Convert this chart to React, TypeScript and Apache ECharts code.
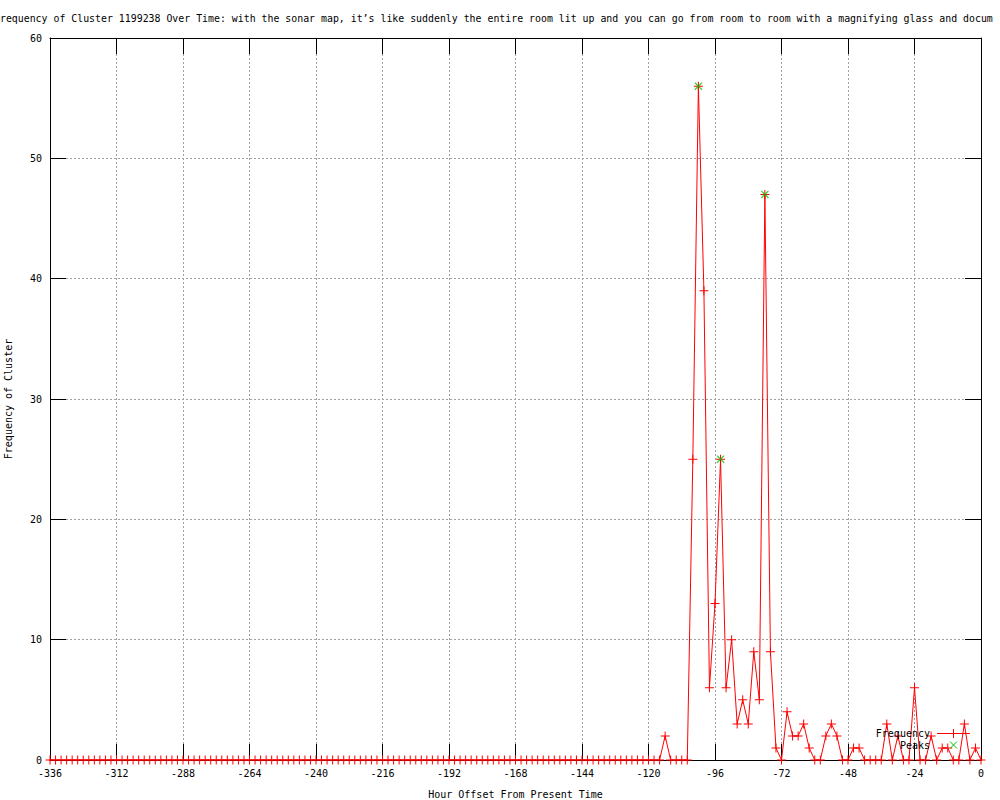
import React, { useEffect, useRef } from "react";
import * as echarts from "echarts";

const TITLE =
  "Frequency of Cluster 1199238 Over Time: with the sonar map, it\u2019s like suddenly the entire room lit up and you can go from room to room with a magnifying glass and docum";
const X_NAME = "Hour Offset From Present Time";
const Y_NAME = "Frequency of Cluster";
const SERIES_FREQ = "Frequency";
const SERIES_PEAKS = "Peaks";

const hours = [
  -336, -334, -332, -330, -328, -326, -324, -322, -320, -318, -316, -314,
  -312, -310, -308, -306, -304, -302, -300, -298, -296, -294, -292, -290,
  -288, -286, -284, -282, -280, -278, -276, -274, -272, -270, -268, -266,
  -264, -262, -260, -258, -256, -254, -252, -250, -248, -246, -244, -242,
  -240, -238, -236, -234, -232, -230, -228, -226, -224, -222, -220, -218,
  -216, -214, -212, -210, -208, -206, -204, -202, -200, -198, -196, -194,
  -192, -190, -188, -186, -184, -182, -180, -178, -176, -174, -172, -170,
  -168, -166, -164, -162, -160, -158, -156, -154, -152, -150, -148, -146,
  -144, -142, -140, -138, -136, -134, -132, -130, -128, -126, -124, -122,
  -120, -118, -116, -114, -112, -110, -108, -106, -104, -102, -100, -98,
  -96, -94, -92, -90, -88, -86, -84, -82, -80, -78, -76, -74,
  -72, -70, -68, -66, -64, -62, -60, -58, -56, -54, -52, -50,
  -48, -46, -44, -42, -40, -38, -36, -34, -32, -30, -28, -26,
  -24, -22, -20, -18, -16, -14, -12, -10, -8, -6, -4, -2,
  0,
];

const frequency = [
  0, 0, 0, 0, 0, 0, 0, 0, 0, 0, 0, 0,
  0, 0, 0, 0, 0, 0, 0, 0, 0, 0, 0, 0,
  0, 0, 0, 0, 0, 0, 0, 0, 0, 0, 0, 0,
  0, 0, 0, 0, 0, 0, 0, 0, 0, 0, 0, 0,
  0, 0, 0, 0, 0, 0, 0, 0, 0, 0, 0, 0,
  0, 0, 0, 0, 0, 0, 0, 0, 0, 0, 0, 0,
  0, 0, 0, 0, 0, 0, 0, 0, 0, 0, 0, 0,
  0, 0, 0, 0, 0, 0, 0, 0, 0, 0, 0, 0,
  0, 0, 0, 0, 0, 0, 0, 0, 0, 0, 0, 0,
  0, 0, 0, 2, 0, 0, 0, 0, 25, 56, 39, 6,
  13, 25, 6, 10, 3, 5, 3, 9, 5, 47, 9, 1,
  0, 4, 2, 2, 3, 1, 0, 0, 2, 3, 2, 0,
  0, 1, 1, 0, 0, 0, 0, 3, 0, 2, 0, 0,
  6, 0, 0, 2, 0, 1, 1, 0, 0, 3, 0, 1,
  0,
];

const peakHours = [-102, -94, -78];
const peakValues = [56, 25, 47];

const X_MIN = -336;
const X_MAX = 0;
const X_STEP = 24;
const Y_MIN = 0;
const Y_MAX = 60;
const Y_STEP = 10;

const FONT = '"DejaVu Sans Mono", "Liberation Mono", monospace';
const PLUS = "path://M4,0H5V4H9V5H5V9H4V5H0V4H4Z";
const CROSS =
  "path://M0,1L1,0L4.5,3.5L8,0L9,1L5.5,4.5L9,8L8,9L4.5,5.5L1,9L0,8L3.5,4.5Z";

const TICK_LEN = 16;
const labelStyle = { color: "#000", fontFamily: FONT, fontSize: 10 };
const gridLine = { color: "#a0a0a0", width: 1, type: [2, 2] };

function baseAxis(min: number, max: number, step: number, position: string) {
  return {
    type: "value",
    min,
    max,
    interval: step,
    position,
    axisLine: { show: false, onZero: false },
    axisTick: { show: false },
    axisLabel: { show: false },
    splitLine: { show: false },
  };
}

function gridAxis(min: number, max: number, step: number, position: string) {
  return {
    ...baseAxis(min, max, step, position),
    z: 0,
    zlevel: 0,
    splitLine: { show: true, lineStyle: gridLine },
  };
}

function frameAxis(
  min: number,
  max: number,
  step: number,
  position: string,
  withLabels: boolean,
  extra: any
) {
  return {
    ...baseAxis(min, max, step, position),
    z: 10,
    zlevel: 1,
    axisLine: { show: true, onZero: false, lineStyle: { color: "#000", width: 1 } },
    axisTick: {
      show: true,
      inside: true,
      length: TICK_LEN,
      lineStyle: { color: "#000", width: 1 },
    },
    axisLabel: withLabels
      ? { show: true, ...labelStyle, margin: 8 }
      : { show: false },
    ...extra,
  };
}

export default function App() {
  const ref = useRef<HTMLDivElement>(null);

  useEffect(() => {
    if (!ref.current) return;
    const chart = echarts.init(ref.current, null, { renderer: "svg" });

    const option: any = {
      animation: false,
      backgroundColor: "#fff",
      grid: {
        left: 50,
        right: 19,
        top: 38,
        bottom: 40,
        containLabel: false,
        outerBoundsMode: "none",
        show: false,
      },
      xAxis: [
        gridAxis(X_MIN, X_MAX, X_STEP, "bottom"),
        frameAxis(X_MIN, X_MAX, X_STEP, "bottom", true, {
          name: X_NAME,
          nameLocation: "middle",
          nameGap: 29,
          nameTextStyle: { color: "#000", fontFamily: FONT, fontSize: 10 },
        }),
        frameAxis(X_MIN, X_MAX, X_STEP, "top", false, {}),
      ],
      yAxis: [
        gridAxis(Y_MIN, Y_MAX, Y_STEP, "left"),
        frameAxis(Y_MIN, Y_MAX, Y_STEP, "left", true, {
          name: Y_NAME,
          nameLocation: "middle",
          nameGap: 37,
          nameRotate: 90,
          nameTextStyle: { color: "#000", fontFamily: FONT, fontSize: 10 },
        }),
        frameAxis(Y_MIN, Y_MAX, Y_STEP, "right", false, {}),
      ],
      series: [
        {
          name: SERIES_FREQ,
          type: "line",
          xAxisIndex: 0,
          yAxisIndex: 0,
          data: hours.map((h, i) => [h, frequency[i]]),
          showAllSymbol: true,
          symbol: PLUS,
          symbolSize: 9,
          lineStyle: { color: "#ff0000", width: 1 },
          itemStyle: { color: "#ff0000" },
          zlevel: 2,
          z: 6,
        },
        {
          name: SERIES_PEAKS,
          type: "scatter",
          xAxisIndex: 0,
          yAxisIndex: 0,
          data: peakHours.map((h, i) => [h, peakValues[i]]),
          symbol: CROSS,
          symbolSize: 8,
          itemStyle: { color: "#00c000" },
          zlevel: 2,
          z: 7,
        },
      ],
      graphic: [
        {
          type: "text",
          x: -6,
          y: 18,
          z: 100,
          zlevel: 3,
          style: {
            text: TITLE,
            fill: "#000",
            font: `9.9px ${FONT}`,
            textAlign: "left",
            textVerticalAlign: "middle",
          },
        },
        {
          type: "text",
          x: 930,
          y: 733,
          z: 100,
          zlevel: 3,
          style: {
            text: SERIES_FREQ,
            fill: "#000",
            font: `10px ${FONT}`,
            textAlign: "right",
            textVerticalAlign: "middle",
          },
        },
        {
          type: "line",
          z: 100,
          zlevel: 3,
          shape: { x1: 937, y1: 733.5, x2: 970, y2: 733.5 },
          style: { stroke: "#ff0000", lineWidth: 1 },
        },
        {
          type: "line",
          z: 100,
          zlevel: 3,
          shape: { x1: 953.5, y1: 729, x2: 953.5, y2: 738 },
          style: { stroke: "#ff0000", lineWidth: 1 },
        },
        {
          type: "text",
          x: 930,
          y: 745,
          z: 100,
          zlevel: 3,
          style: {
            text: SERIES_PEAKS,
            fill: "#000",
            font: `10px ${FONT}`,
            textAlign: "right",
            textVerticalAlign: "middle",
          },
        },
        {
          type: "line",
          z: 100,
          zlevel: 3,
          shape: { x1: 950, y1: 741.5, x2: 957, y2: 748.5 },
          style: { stroke: "#00c000", lineWidth: 1 },
        },
        {
          type: "line",
          z: 100,
          zlevel: 3,
          shape: { x1: 950, y1: 748.5, x2: 957, y2: 741.5 },
          style: { stroke: "#00c000", lineWidth: 1 },
        },
      ],
    };

    chart.setOption(option);
    return () => chart.dispose();
  }, []);

  return (
    <div
      ref={ref}
      style={{
        position: "absolute",
        left: 0,
        top: 0,
        width: 1000,
        height: 800,
        background: "#fff",
      }}
    />
  );
}
